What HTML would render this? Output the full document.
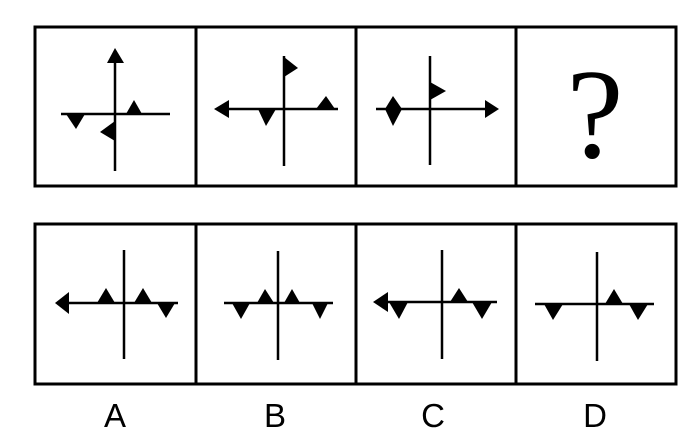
<!DOCTYPE html>
<html><head><style>html,body{margin:0;padding:0;background:#fff;}svg{display:block}</style></head>
<body>
<svg width="700" height="448" viewBox="0 0 700 448" xmlns="http://www.w3.org/2000/svg">
<g fill="none" stroke="#000" stroke-width="3">
<rect x="35" y="27" width="641" height="159"/>
<line x1="196" y1="27" x2="196" y2="186"/><line x1="356" y1="27" x2="356" y2="186"/><line x1="516" y1="27" x2="516" y2="186"/>
<rect x="35" y="224" width="641" height="160"/>
<line x1="196" y1="224" x2="196" y2="384"/><line x1="356" y1="224" x2="356" y2="384"/><line x1="516" y1="224" x2="516" y2="384"/>
</g>
<g stroke="#000" stroke-width="2.5">
<line x1="115" y1="58" x2="115" y2="171"/><line x1="61" y1="114" x2="170" y2="114"/>
<line x1="284" y1="56" x2="284" y2="166"/><line x1="224" y1="109" x2="338" y2="109"/>
<line x1="430" y1="56" x2="430" y2="165"/><line x1="376" y1="109" x2="490" y2="109"/>
<line x1="124" y1="250" x2="124" y2="359"/><line x1="64" y1="303" x2="178" y2="303"/>
<line x1="278" y1="251" x2="278" y2="360"/><line x1="224" y1="303" x2="333" y2="303"/>
<line x1="442" y1="250" x2="442" y2="359"/><line x1="383" y1="302" x2="497" y2="302"/>
<line x1="597" y1="252" x2="597" y2="361"/><line x1="535" y1="304" x2="654" y2="304"/>
</g>
<g fill="#000">
<polygon points="115,48 107,63 124,63"/>
<polygon points="66,114 85,114 76,129"/>
<polygon points="126,114 142,114 134,100"/>
<polygon points="115,121 115,141 100,132"/>
<polygon points="284,57 284,77 298,68"/>
<polygon points="214,109 229,100 229,118"/>
<polygon points="258,109 276,109 266,126"/>
<polygon points="316,109 335,109 326,96"/>
<polygon points="430,82 430,100 446,91"/>
<polygon points="499,109 485,100 485,118"/>
<polygon points="393,96 402,109 393,126 385,109"/>
<polygon points="55,303 69,292 69,314"/>
<polygon points="97,303 115,303 106,288"/>
<polygon points="134,303 152,303 143,288"/>
<polygon points="157,303 175,303 166,318"/>
<polygon points="232,303 250,303 241,319"/>
<polygon points="257,303 274,303 265,289"/>
<polygon points="284,303 300,303 292,289"/>
<polygon points="312,303 328,303 320,319"/>
<polygon points="373,302 388,292 388,312"/>
<polygon points="389,302 408,302 399,319"/>
<polygon points="450,302 468,302 459,288"/>
<polygon points="472,302 492,302 482,319"/>
<polygon points="544,304 563,304 553,320"/>
<polygon points="605,304 623,304 614,289"/>
<polygon points="629,304 648,304 638,320"/>
</g>
<text x="595" y="157" font-family="Liberation Serif, serif" font-size="128" text-anchor="middle">?</text>
<g font-family="Liberation Sans, sans-serif" font-size="33" text-anchor="middle">
<text x="115" y="427">A</text><text x="275" y="427">B</text><text x="433" y="427">C</text><text x="595" y="427">D</text>
</g>
</svg>
</body></html>
